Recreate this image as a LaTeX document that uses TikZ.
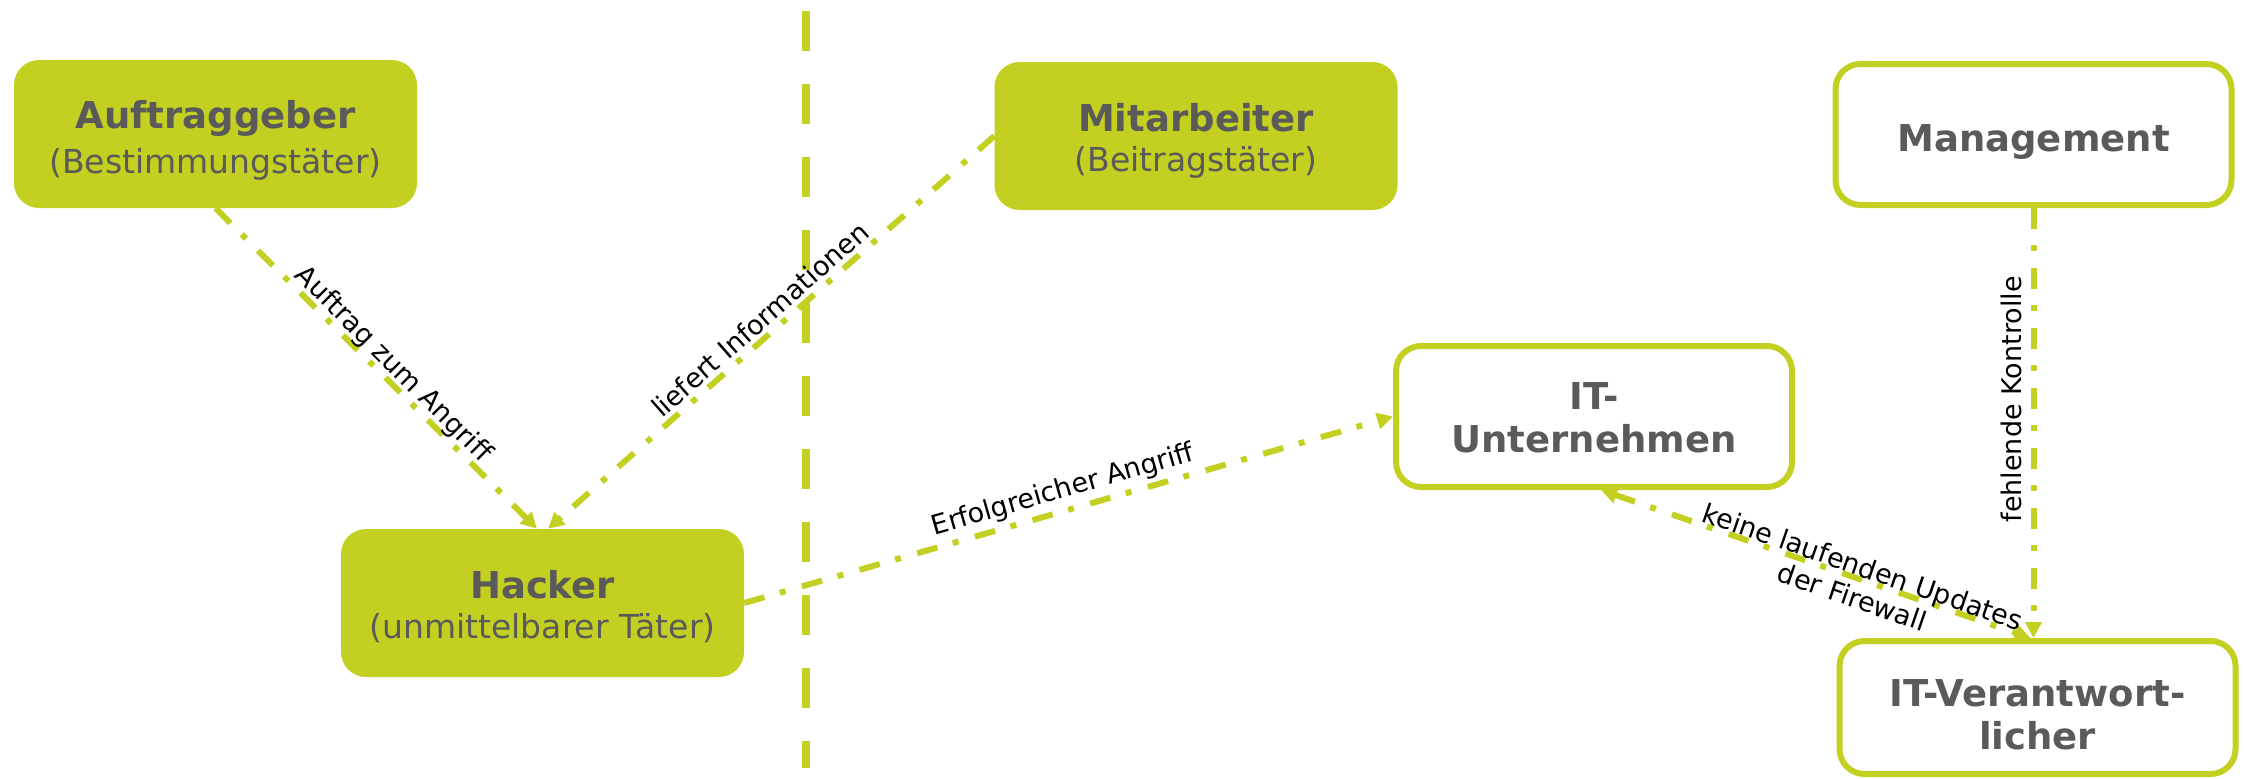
\documentclass[tikz,border=0pt]{standalone}
\usepackage{fontspec}
\setmainfont{DejaVu Sans}
\usetikzlibrary{arrows.meta,calc}
\definecolor{lime}{HTML}{C3CF21}
\definecolor{txtgray}{HTML}{5A5A5A}
\newcommand\mystrut[1]{\rule{0pt}{#1pt}}
\newcommand\ttlfont{\bfseries\fontsize{37}{40}\selectfont}
\begin{document}
\begin{tikzpicture}[x=1pt,y=-1pt,
  >={Triangle[length=16pt,width=16pt]},
  fbox/.style={fill=lime, rounded corners=25pt, minimum width=403pt, minimum height=148pt,
    inner sep=0pt, text=txtgray, align=center, font=\fontsize{33}{40}\selectfont},
  wbox/.style={draw=lime, line width=6pt, fill=white, rounded corners=25pt,
    minimum width=396pt, minimum height=141pt, inner sep=0pt, text=txtgray, align=center,
    font=\bfseries\fontsize{37}{43}\selectfont},
  conn/.style={draw=lime, line width=6pt, dash pattern=on 21pt off 16pt on 6pt off 17pt, ->},
  lbl/.style={font=\fontsize{27}{32}\selectfont, text=black, sloped, inner sep=0pt},
  divider/.style={draw=lime, line width=8pt, dash pattern=on 40pt off 33pt}
]
\useasboundingbox (0,0) rectangle (2244,779);

% divider
\coordinate (vtop) at (806,11);
\coordinate (vbot) at (806,768);
\draw[divider] (vtop) -- (vbot);

% nodes
\node[fbox, font=\fontsize{33}{45}\selectfont] (a) at (215.5,134) {{\ttlfont\mystrut{40}Auftraggeber}\\(Bestimmungstäter)};
\node[fbox] (m) at (1196,136) {{\ttlfont\mystrut{38}Mitarbeiter}\\(Beitragstäter)};
\node[fbox] (h) at (542.5,603) {{\ttlfont\mystrut{36}Hacker}\\(unmittelbarer Täter)};
\node[wbox] (mg) at (2033.5,134.5) {\mystrut{41}Management};
\node[wbox] (itu) at (1594,416.5) {\mystrut{29}IT-\\Unternehmen};
\node[wbox, minimum height=133pt] (itv) at (2037.5,707.5) {\mystrut{41}IT-Verantwort-\\licher};

% connector end points
\coordinate (hinA) at ($(h.north)+(-5.5,0)$);
\coordinate (hinM) at ($(h.north)+(5.5,0)$);
\coordinate (itus) at ($(itu.south)+(7,0)$);
\coordinate (itvn) at ($(itv.north)+(-7,0)$);
\coordinate (mgs) at (mg.south);
\coordinate (itvm) at (mgs |- itv.north);

% connectors
\draw[conn] (a.south) -- node[lbl, pos=0.52, anchor=base, yshift=7pt] {Auftrag zum Angriff} (hinA);
\draw[conn] (m.west) -- node[lbl, pos=0.5, anchor=base, yshift=7pt] {liefert Informationen} (hinM);
\draw[conn] (h.east) -- node[lbl, pos=0.5, above=4pt] {Erfolgreicher Angriff} (itu.west);
\draw[conn, <->] (itus) -- node[lbl, pos=0.6, anchor=base, align=center, yshift=-29pt] {keine laufenden Updates\\der Firewall} (itvn);
\draw[conn] (mgs) -- node[lbl, sloped=false, rotate=90, pos=0.445, anchor=south, inner sep=8.5pt] {fehlende Kontrolle} (itvm);
\end{tikzpicture}
\end{document}
